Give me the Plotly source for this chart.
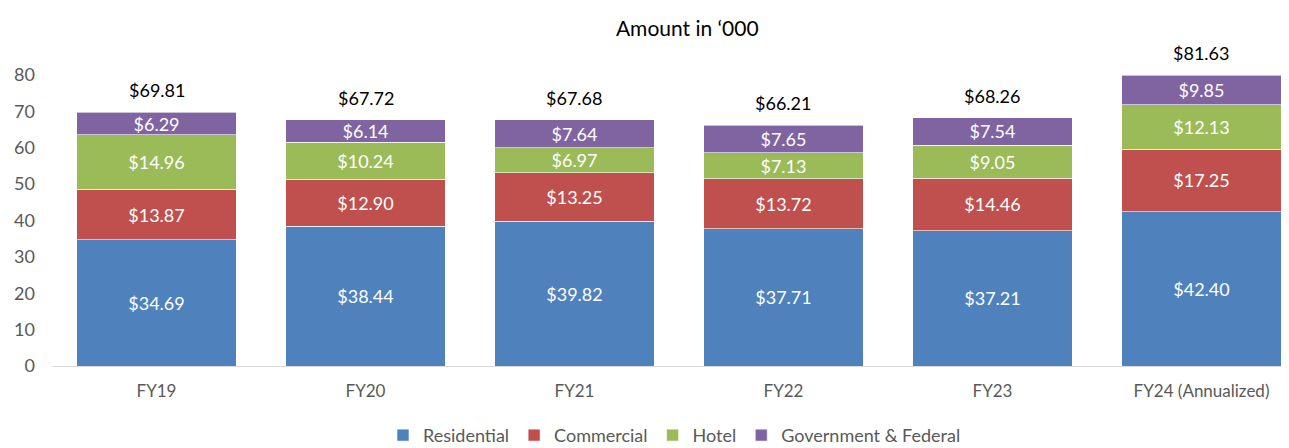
import plotly.graph_objects as go

categories = ["FY19", "FY20", "FY21", "FY22", "FY23", "FY24 (Annualized)"]
residential = [34.69, 38.44, 39.82, 37.71, 37.21, 42.40]
commercial = [13.87, 12.90, 13.25, 13.72, 14.46, 17.25]
hotel = [14.96, 10.24, 6.97, 7.13, 9.05, 12.13]
government = [6.29, 6.14, 7.64, 7.65, 7.54, 9.85]
totals = [69.81, 67.72, 67.68, 66.21, 68.26, 81.63]

series = [
    ("Residential", residential, "#4F81BD"),
    ("Commercial", commercial, "#C0504D"),
    ("Hotel", hotel, "#9BBB59"),
    ("Government & Federal", government, "#8064A2"),
]

FONT = "Lato, 'Open Sans', sans-serif"
YMAX = 80

fig = go.Figure()
base = [0.0] * len(categories)
for name, vals, color in series:
    # the axis stops at YMAX, so the drawn segment is cut there (label keeps the full value)
    drawn = [max(0.0, min(b + v, YMAX) - b) for b, v in zip(base, vals)]
    fig.add_trace(go.Bar(
        x=categories, y=drawn, name=name,
        marker=dict(color=color, line=dict(color="white", width=0.6)),
        text=[f"${v:.2f}" for v in vals],
        textposition="inside", insidetextanchor="middle",
        textfont=dict(color="white", size=18, family=FONT),
        constraintext="none",
    ))
    base = [b + v for b, v in zip(base, vals)]

for c, t in zip(categories, totals):
    fig.add_annotation(x=c, y=min(t, YMAX), text=f"${t:.2f}", showarrow=False,
                       yanchor="bottom", yshift=9,
                       font=dict(color="black", size=18, family=FONT))

fig.update_layout(
    barmode="stack", bargap=0.235,
    width=1289, height=448,
    margin=dict(l=44, r=0, t=67, b=90),
    plot_bgcolor="white", paper_bgcolor="white",
    font=dict(family=FONT, size=17, color="#595959"),
    title=dict(text="Amount in \u2018000", x=0.527, y=0.955, xanchor="center", yanchor="middle",
               font=dict(size=21, color="black", family=FONT)),
    uniformtext=dict(mode=False),
    legend=dict(orientation="h", x=0.5, xanchor="center", y=-0.175, yanchor="top",
                font=dict(size=18, color="#595959", family=FONT), traceorder="normal",
                itemwidth=30),
    xaxis=dict(range=[-0.5, 5.457], showline=True, linecolor="#D9D9D9", linewidth=1,
               ticks="", ticklabelstandoff=10, tickfont=dict(size=17, color="#595959")),
    yaxis=dict(range=[0, YMAX], dtick=10, showgrid=False, zeroline=False, showline=False,
               ticks="", ticklabelstandoff=16, tickfont=dict(size=18, color="#595959")),
)

fig.write_html("out.html")
